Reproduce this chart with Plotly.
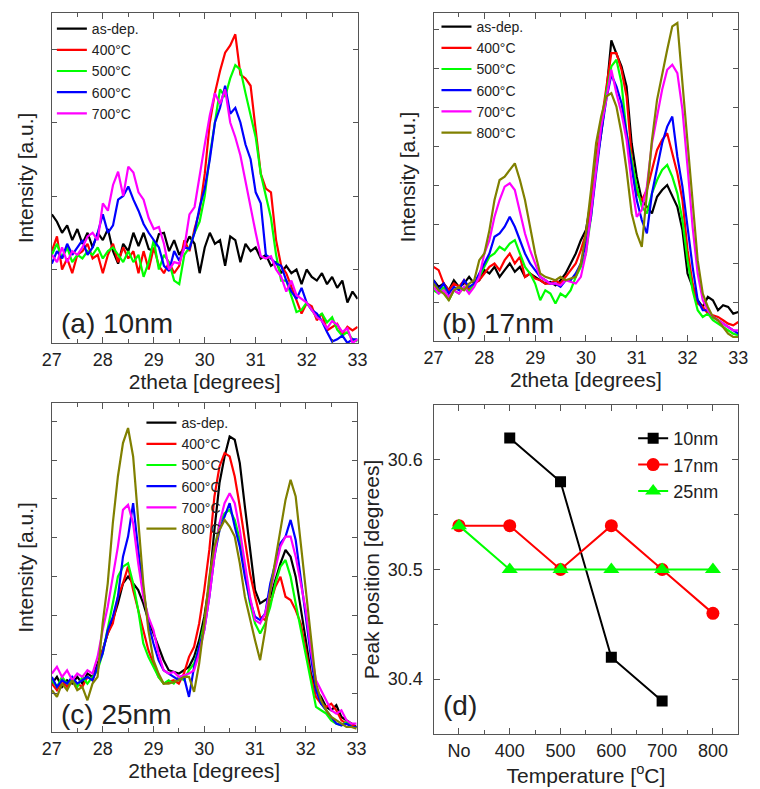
import plotly.graph_objects as go

# ---------------- data ----------------
THETA = [27.0, 27.1, 27.2, 27.3, 27.4, 27.5, 27.6, 27.7, 27.8, 27.9,
         28.0, 28.1, 28.2, 28.3, 28.4, 28.5, 28.6, 28.7, 28.8, 28.9,
         29.0, 29.1, 29.2, 29.3, 29.4, 29.5, 29.6, 29.7, 29.8, 29.9,
         30.0, 30.1, 30.2, 30.3, 30.4, 30.5, 30.6, 30.7, 30.8, 30.9,
         31.0, 31.1, 31.2, 31.3, 31.4, 31.5, 31.6, 31.7, 31.8, 31.9,
         32.0, 32.1, 32.2, 32.3, 32.4, 32.5, 32.6, 32.7, 32.8, 32.9, 33.0]

# (a) 10 nm
A_ASDEP = [175, 165, 150, 160, 140, 155, 135, 150, 130, 150,
           140, 155, 125, 108, 135, 125, 150, 132, 150, 128,
           125, 148, 150, 125, 140, 120, 130, 145, 135, 95,
           130, 150, 135, 140, 105, 145, 140, 110, 135, 125,
           130, 115, 120, 105, 110, 95, 105, 95, 100, 80,
           100, 90, 85, 95, 80, 90, 75, 85, 55, 70, 60]
A_400 = [125, 145, 100, 115, 95, 120, 125, 135, 115, 120,
         95, 120, 135, 110, 130, 115, 125, 95, 125, 100,
         130, 105, 95, 110, 95, 105, 140, 125, 155, 180,
         230, 300, 340, 370, 395, 405, 420, 365, 360, 350,
         290, 230, 210, 205, 140, 105, 95, 76, 58, 40,
         54, 50, 31, 40, 17, 22, 26, 12, 22, 17, 22]
A_500 = [120, 135, 115, 130, 110, 120, 115, 125, 120, 130,
         115, 125, 130, 120, 110, 125, 110, 120, 90, 110,
         140, 100, 120, 110, 85, 80, 120, 130, 150, 165,
         200, 255, 300, 345, 335, 360, 378, 372, 340, 310,
         280, 230, 200, 170, 120, 85, 85, 62, 42, 45,
         55, 45, 35, 40, 28, 35, 18, 10, 15, 5, 2]
A_600 = [108, 125, 115, 135, 120, 130, 140, 120, 130, 150,
         175, 150, 160, 195, 200, 213, 195, 180, 162, 150,
         140, 130, 105, 98, 125, 112, 130, 128, 150, 185,
         210, 250, 300, 320, 350, 312, 320, 300, 270, 250,
         205, 190, 120, 115, 108, 105, 85, 70, 60, 75,
         55, 45, 40, 30, 15, 2, 5, 10, 0, 5, 5]
A_700 = [120, 110, 130, 110, 125, 120, 130, 145, 150, 140,
         190, 180, 215, 233, 200, 240, 232, 205, 195, 170,
         155, 158, 135, 100, 110, 108, 130, 175, 185, 230,
         270, 310, 340, 325, 345, 300, 280, 255, 220, 180,
         150, 118, 115, 118, 100, 90, 70, 85, 65, 60,
         55, 45, 35, 30, 20, 30, 25, 15, 20, 0, 5]

# (b) 17 nm
B_ASDEP = [182, 162, 172, 152, 182, 162, 172, 192, 172, 182,
           212, 202, 222, 192, 212, 232, 207, 222, 192, 202,
           192, 182, 172, 177, 167, 182, 202, 232, 262, 302,
           332, 422, 522, 622, 740, 900, 860, 822, 762, 592,
           492, 422, 402, 382, 432, 452, 467, 432, 402, 332,
           202, 162, 122, 102, 132, 122, 92, 107, 102, 82, 87]
B_400 = [222, 212, 172, 152, 172, 162, 182, 152, 172, 182,
         202, 222, 232, 212, 242, 262, 232, 252, 192, 202,
         187, 182, 172, 172, 182, 172, 192, 212, 232, 272,
         322, 412, 552, 652, 762, 862, 862, 812, 732, 552,
         442, 422, 452, 512, 572, 602, 622, 562, 502, 422,
         272, 172, 112, 102, 82, 77, 72, 62, 52, 47, 57]
B_500 = [152, 142, 162, 122, 152, 142, 162, 147, 172, 192,
         222, 252, 262, 282, 272, 292, 302, 262, 222, 202,
         172, 122, 152, 142, 112, 142, 132, 152, 192, 222,
         262, 372, 522, 642, 742, 822, 842, 772, 622, 542,
         462, 402, 382, 442, 482, 512, 527, 492, 442, 362,
         242, 152, 92, 72, 82, 62, 52, 42, 32, 22, 17]
B_600 = [182, 152, 172, 142, 162, 152, 182, 162, 172, 202,
         232, 262, 312, 322, 342, 372, 342, 302, 262, 232,
         212, 192, 182, 172, 172, 162, 182, 182, 202, 232,
         292, 372, 502, 622, 722, 797, 762, 712, 622, 522,
         422, 362, 322, 442, 512, 592, 642, 672, 552, 462,
         342, 222, 122, 92, 92, 72, 62, 52, 42, 32, 22]
B_700 = [162, 142, 152, 132, 152, 142, 162, 142, 162, 192,
         262, 302, 372, 422, 462, 472, 452, 382, 322, 272,
         232, 192, 182, 172, 172, 167, 182, 177, 172, 192,
         262, 382, 522, 642, 722, 812, 742, 682, 602, 472,
         372, 392, 462, 592, 672, 752, 812, 827, 802, 692,
         522, 342, 202, 122, 92, 72, 62, 52, 42, 32, 32]
B_800 = [172, 152, 142, 122, 152, 162, 152, 172, 182, 242,
         262, 332, 422, 482, 492, 512, 532, 482, 422, 342,
         262, 202, 192, 187, 182, 192, 182, 187, 192, 232,
         322, 452, 592, 672, 732, 742, 702, 622, 512, 382,
         322, 282, 442, 602, 722, 802, 872, 942, 952, 772,
         602, 422, 242, 142, 102, 72, 62, 42, 22, 12, 12]

# (c) 25 nm
C_ASDEP = [145, 165, 135, 155, 145, 165, 145, 175, 165, 205,
           245, 295, 335, 385, 445, 465, 445, 425, 385, 335,
           295, 255, 215, 185, 180, 175, 185, 195, 225, 275,
           345, 445, 605, 745, 825, 885, 875, 805, 675, 545,
           425, 385, 395, 405, 455, 505, 545, 525, 465, 375,
           275, 175, 125, 105, 75, 65, 80, 45, 35, 25, 15]
C_400 = [145, 125, 155, 135, 155, 145, 135, 165, 155, 195,
         245, 295, 325, 405, 445, 495, 425, 365, 305, 245,
         205, 165, 145, 150, 155, 145, 175, 225, 255, 325,
         425, 545, 705, 795, 835, 825, 765, 675, 575, 475,
         405, 345, 335, 385, 435, 465, 405, 395, 365, 325,
         245, 165, 105, 85, 75, 85, 65, 35, 25, 20, 15]
C_500 = [155, 135, 165, 145, 155, 135, 165, 145, 165, 185,
         235, 305, 385, 465, 495, 505, 445, 365, 265, 225,
         195, 165, 145, 155, 145, 165, 155, 185, 205, 255,
         325, 435, 545, 625, 655, 665, 635, 575, 475, 385,
         325, 295, 325, 375, 445, 495, 515, 465, 385, 305,
         225, 145, 75, 65, 55, 35, 25, 20, 30, 15, 15]
C_600 = [165, 135, 155, 145, 165, 145, 155, 165, 155, 195,
         235, 305, 345, 405, 525, 585, 685, 545, 425, 325,
         265, 215, 185, 175, 165, 155, 165, 105, 195, 255,
         305, 405, 525, 605, 645, 685, 615, 555, 465, 395,
         345, 335, 355, 445, 505, 565, 585, 635, 575, 465,
         345, 225, 125, 85, 65, 45, 25, 20, 25, 15, 15]
C_700 = [175, 195, 165, 185, 155, 175, 165, 185, 175, 225,
         305, 375, 465, 555, 665, 680, 625, 505, 405, 345,
         305, 235, 185, 175, 180, 165, 170, 175, 185, 235,
         305, 405, 525, 625, 685, 715, 685, 605, 505, 405,
         335, 325, 355, 425, 495, 555, 585, 585, 525, 445,
         365, 245, 155, 125, 95, 65, 55, 65, 35, 25, 25]
C_800 = [125, 105, 145, 125, 155, 125, 135, 95, 145, 165,
         325, 445, 625, 765, 865, 910, 825, 645, 445, 305,
         215, 175, 145, 145, 150, 155, 165, 165, 120, 205,
         325, 465, 555, 605, 635, 615, 585, 505, 405, 335,
         275, 215, 305, 425, 515, 595, 695, 755, 705, 565,
         425, 275, 145, 95, 65, 45, 35, 25, 15, 15, 10]

# (d) peak position
TEMP_LABELS = ["No", "400", "500", "600", "700", "800"]
PEAK_10NM = [None, 30.62, 30.58, 30.42, 30.38, None]
PEAK_17NM = [30.54, 30.54, 30.50, 30.54, 30.50, 30.46]
PEAK_25NM = [30.54, 30.50, 30.50, 30.50, 30.50, 30.50]

SERIES_NAMES = ["as-dep.", "400°C", "500°C", "600°C", "700°C", "800°C"]
COLORS = ["#000000", "#ff0000", "#00ff00", "#0000ff", "#ff00ff", "#808000"]

PANEL_A = [A_ASDEP, A_400, A_500, A_600, A_700]
PANEL_B = [B_ASDEP, B_400, B_500, B_600, B_700, B_800]
PANEL_C = [C_ASDEP, C_400, C_500, C_600, C_700, C_800]

# ---------------- figure ----------------
W, H = 760, 789
FONT = "Arial, 'Liberation Sans', sans-serif"
AX = "#555555"


def px_x(a, b):
    return [a / W, b / W]


def px_y(top, bottom):
    return [1 - bottom / H, 1 - top / H]


fig = go.Figure()

panels = [
    (PANEL_A, "x", "y", "legend"),
    (PANEL_B, "x2", "y2", "legend2"),
    (PANEL_C, "x3", "y3", "legend3"),
]
for data, xa, ya, lg in panels:
    for i, vals in enumerate(data):
        fig.add_trace(go.Scatter(
            x=THETA, y=vals, mode="lines", name=SERIES_NAMES[i],
            line=dict(color=COLORS[i], width=2.2),
            xaxis=xa, yaxis=ya, legend=lg, showlegend=True))

temp_pos = list(range(len(TEMP_LABELS)))
fig.add_trace(go.Scatter(x=temp_pos, y=PEAK_10NM, mode="lines+markers", name="10nm",
                         line=dict(color="#000000", width=2),
                         marker=dict(symbol="square", size=11, color="#000000"),
                         xaxis="x4", yaxis="y4", legend="legend4"))
fig.add_trace(go.Scatter(x=temp_pos, y=PEAK_17NM, mode="lines+markers", name="17nm",
                         line=dict(color="#ff0000", width=2),
                         marker=dict(symbol="circle", size=13, color="#ff0000"),
                         xaxis="x4", yaxis="y4", legend="legend4"))
fig.add_trace(go.Scatter(x=temp_pos, y=PEAK_25NM, mode="lines+markers", name="25nm",
                         line=dict(color="#00ff00", width=2),
                         marker=dict(symbol="triangle-up", size=14, color="#00ff00"),
                         xaxis="x4", yaxis="y4", legend="legend4"))


def theta_axis(dom, anchor):
    return dict(domain=dom, anchor=anchor, range=[27, 33], tick0=27, dtick=1,
                ticks="inside", ticklen=6, tickwidth=1, tickcolor=AX,
                minor=dict(tick0=27, dtick=0.5, ticks="inside", ticklen=4,
                           tickwidth=1, tickcolor=AX),
                showline=True, linecolor=AX, linewidth=1.2, mirror="allticks",
                showgrid=False, zeroline=False,
                tickfont=dict(size=18, color="#222", family=FONT),
                title=dict(text="2theta [degrees]", standoff=2,
                           font=dict(size=21, color="#222", family=FONT)))


def int_axis(dom, anchor, top, step):
    return dict(domain=dom, anchor=anchor, range=[0, top], tick0=0, dtick=step,
                ticks="inside", ticklen=5, tickwidth=1, tickcolor=AX,
                showticklabels=False,
                showline=True, linecolor=AX, linewidth=1.2, mirror="allticks",
                showgrid=False, zeroline=False,
                title=dict(text="Intensity [a.u.]", standoff=11,
                           font=dict(size=21, color="#222", family=FONT)))


layout = dict(
    width=W, height=H, margin=dict(l=0, r=0, t=0, b=0),
    paper_bgcolor="white", plot_bgcolor="white",
    font=dict(family=FONT, color="#222"),
    xaxis=theta_axis(px_x(43, 357), "y"),
    yaxis=int_axis(px_y(13, 343), "x", 449, 100),
    xaxis2=theta_axis(px_x(435, 748), "y2"),
    yaxis2=int_axis(px_y(13, 341), "x2", 982, 116.7),
    xaxis3=theta_axis(px_x(43, 356), "y3"),
    yaxis3=int_axis(px_y(403, 732), "x3", 985, 116.3),
    xaxis4=dict(domain=px_x(435, 748), anchor="y4", range=[-0.5, 5.5],
                tickmode="array", tickvals=temp_pos, ticktext=TEMP_LABELS,
                ticks="inside", ticklen=6, tickwidth=1, tickcolor=AX,
                minor=dict(tickmode="array",
                           tickvals=[p + 0.5 for p in temp_pos[:-1]],
                           ticks="inside", ticklen=4, tickwidth=1, tickcolor=AX),
                showline=True, linecolor=AX, linewidth=1.2, mirror="allticks",
                showgrid=False, zeroline=False,
                tickfont=dict(size=18, color="#222", family=FONT),
                title=dict(text="Temperature [<sup>o</sup>C]", standoff=2,
                           font=dict(size=21, color="#222", family=FONT))),
    yaxis4=dict(domain=px_y(405, 734), anchor="x4", range=[30.35, 30.65],
                tick0=30.4, dtick=0.1, tickformat=".1f",
                ticks="inside", ticklen=6, tickwidth=1, tickcolor=AX,
                ticklabelstandoff=6,
                minor=dict(tick0=30.35, dtick=0.05, ticks="inside", ticklen=4,
                           tickwidth=1, tickcolor=AX),
                showline=True, linecolor=AX, linewidth=1.2, mirror="allticks",
                showgrid=False, zeroline=False,
                tickfont=dict(size=18, color="#222", family=FONT),
                title=dict(text="Peak position [degrees]", standoff=2,
                           font=dict(size=21, color="#222", family=FONT))),
)

leg_common = dict(xanchor="left", yanchor="top", bgcolor="rgba(0,0,0,0)",
                  borderwidth=0, tracegroupgap=0,
                  font=dict(size=14, color="#222", family=FONT))
layout["legend"] = dict(x=(48 - 5) / W, y=1 - 13 / H, **leg_common)
layout["legend2"] = dict(x=(443 - 5) / W, y=1 - 11 / H, **leg_common)
layout["legend3"] = dict(x=(140 - 5) / W, y=1 - (390 + 17) / H, **leg_common)
layout["legend4"] = dict(x=(645 - 5) / W, y=1 - 420 / H, xanchor="left", yanchor="top",
                         bgcolor="rgba(0,0,0,0)", borderwidth=0, tracegroupgap=0,
                         font=dict(size=18, color="#222", family=FONT))

fig.update_layout(**layout)

labels = [("(a) 10nm", 50, 324), ("(b) 17nm", 442, 324),
          ("(c) 25nm", 50, 714), ("(d)", 443, 705)]
for txt, x, y in labels:
    fig.add_annotation(text=txt, xref="paper", yref="paper", x=x / W, y=1 - y / H,
                       xanchor="left", yanchor="middle", showarrow=False,
                       font=dict(size=28, color="#222", family=FONT))

fig.write_html("out.html")
